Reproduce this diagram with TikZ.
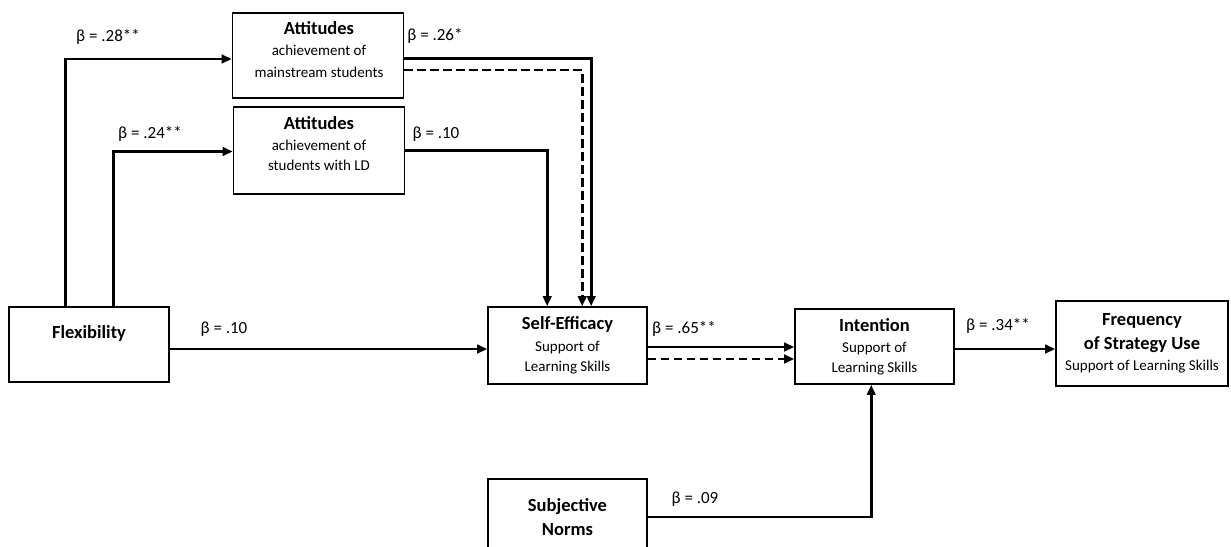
\documentclass[tikz,border=0pt]{standalone}
\usepackage{fontspec}
\setmainfont{Carlito}
\usetikzlibrary{arrows.meta,calc}
\newcommand\ttl[1]{{\fontsize{18.5}{20}\selectfont\bfseries #1}}
\begin{document}
\begin{tikzpicture}[x=1pt,y=-1pt,
  box/.style={draw, line width=1.6pt, rectangle, inner sep=0pt, align=center, font=\fontsize{15}{20}\selectfont},
  txt/.style={align=center, inner sep=0pt, font=\fontsize{15}{20}\selectfont},
  conn/.style={line width=2.6pt, -{Triangle[length=10pt,width=8.5pt]}},
  dconn/.style={conn, dash pattern=on 8.5pt off 4.5pt},
  lbl/.style={font=\fontsize{17}{19}\selectfont, inner sep=0pt}]
\clip (0,0) rectangle (1231,546);
\fill[white] (0,0) rectangle (1231,546);
% boxes
\node[box, minimum width=171pt, minimum height=85pt] (att1) at (318,55.5) {};
\node[txt] (att1t) at (319,49.5) {\ttl{Attitudes}\\[1pt] achievement of\\[1.5pt] mainstream students};
\node[box, minimum width=171pt, minimum height=87pt] (att2) at (319,150.5) {};
\node[txt] (att2t) at (319,143.5) {\ttl{Attitudes}\\[1pt] achievement of\\ students with LD};
\node[box, minimum width=160pt, minimum height=75pt] (flex) at (89,344.5) {};
\node[txt] (flext) at (89,333) {\ttl{Flexibility}};
\node[box, minimum width=159pt, minimum height=77pt] (se) at (567.5,345.5) {\ttl{Self-Efficacy}\\[2pt] Support of\\ Learning Skills};
\node[box, minimum width=159pt, minimum height=75pt] (int) at (874.5,346.5) {\ttl{Intention}\\[1pt] Support of\\ Learning Skills};
\node[box, minimum width=172pt, minimum height=85pt] (freq) at (1142,343.5) {\ttl{Frequency}\\[4pt] \ttl{of Strategy Use}\\[1pt] Support of Learning Skills};
\node[box, minimum width=159pt, minimum height=76pt] (sn) at (567.5,517) {\ttl{Subjective}\\[4pt] \ttl{Norms}};
% connectors
\draw[conn] ($(flex.north west)+(57,0)$) |- ($(att1.west)+(0,3.5)$);
\draw[conn] ($(flex.north west)+(105,0)$) |- ($(att2.west)+(0,1)$);
\draw[conn] ($(att1.east)+(0,3)$) -| ($(se.north west)+(104,0)$);
\draw[dconn] ($(att1.east)+(0,14.5)$) -| ($(se.north west)+(95,0)$);
\draw[conn] (att2.east) -| ($(se.north west)+(60,0)$);
\draw[conn] ($(flex.east)+(0,4.5)$) coordinate (f1) -- (f1 -| se.west);
\draw[conn] ($(se.east)+(0,1.5)$) coordinate (s1) -- (s1 -| int.west);
\draw[dconn] ($(se.east)+(0,13.5)$) coordinate (s2) -- (s2 -| int.west);
\draw[conn] ($(int.east)+(0,2.5)$) coordinate (i1) -- (i1 -| freq.west);
\draw[conn] (sn.east) -| ($(int.south west)+(77,0)$);
% labels
\node[lbl] (l1) at (108,37) {β = .28**};
\node[lbl] (l2) at (150,134) {β = .24**};
\node[lbl] (l3) at (435,36) {β = .26*};
\node[lbl] (l4) at (436,134) {β = .10};
\node[lbl] (l5) at (224,329) {β = .10};
\node[lbl] (l6) at (684,329) {β = .65**};
\node[lbl] (l7) at (998,326) {β = .34**};
\node[lbl] (l8) at (695,499) {β = .09};
\end{tikzpicture}
\end{document}
